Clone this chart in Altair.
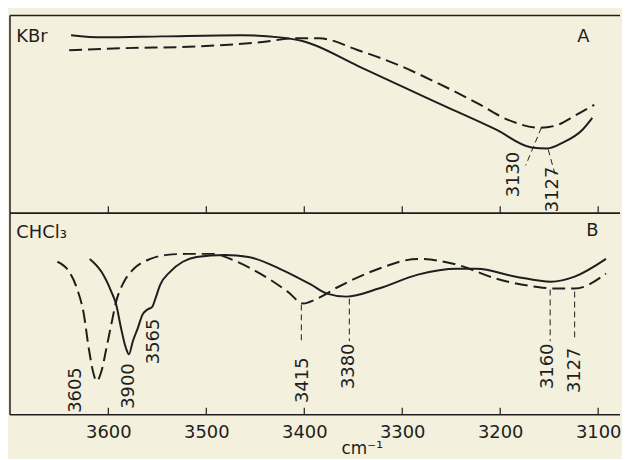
import altair as alt
import pandas as pd

# ---------------- data ----------------
# Panel A (KBr): wavenumber (cm-1) and relative transmittance (0-100 of panel height)
a_solid_wn = [3638, 3606, 3545, 3465, 3425, 3401, 3345, 3264, 3204, 3168, 3152, 3136, 3116, 3106]
a_solid_t = [90.0, 88.9, 89.4, 90.0, 88.9, 86.9, 74.4, 55.8, 42.2, 33.2, 32.7, 35.7, 42.2, 48.2]
a_dash_wn = [3640, 3586, 3505, 3445, 3409, 3385, 3345, 3304, 3264, 3224, 3192, 3160, 3144, 3124, 3104]
a_dash_t = [82.4, 83.4, 84.4, 86.4, 88.4, 88.4, 82.4, 74.9, 65.8, 55.8, 47.2, 43.2, 44.2, 49.2, 54.8]

# Panel B (CHCl3)
b_solid_wn = [3619, 3607, 3597, 3592, 3587, 3582, 3579, 3575, 3570, 3565, 3560, 3555, 3552, 3547,
              3537, 3524, 3510, 3481, 3457, 3425, 3393, 3377, 3357, 3324, 3284, 3244, 3224, 3184,
              3148, 3124, 3092]
b_solid_t = [77.3, 70.9, 61.1, 54.7, 42.9, 33.0, 30.0, 36.5, 42.9, 49.8, 52.2, 53.7, 57.6, 64.5,
             70.9, 75.9, 78.3, 79.3, 78.3, 72.4, 64.5, 60.1, 58.6, 62.6, 69.5, 72.4, 72.4, 68.5,
             66.0, 68.5, 77.3]
b_dash_wn = [3652, 3640, 3632, 3625, 3620, 3615, 3612, 3607, 3602, 3597, 3592, 3584, 3574, 3557,
             3540, 3520, 3493, 3473, 3445, 3417, 3401, 3389, 3365, 3324, 3284, 3244, 3204, 3164,
             3144, 3124, 3092]
b_dash_t = [75.9, 70.9, 62.6, 49.8, 33.0, 20.2, 16.7, 21.7, 33.0, 44.8, 56.2, 66.0, 72.4, 77.3,
            79.3, 79.8, 79.8, 76.8, 70.0, 61.1, 55.2, 57.1, 63.5, 72.4, 77.3, 74.4, 67.5, 63.5,
            62.6, 62.6, 70.0]

# peak annotations
a_lab_text = ["3130", "3127"]
a_lab_wn = [3186, 3146]
a_lab_t = [8.0, 0.5]
a_lead_wn1 = [3158, 3151]
a_lead_t1 = [43.2, 32.2]
a_lead_wn2 = [3174, 3144]
a_lead_t2 = [24.1, 19.6]

b_lab_text = ["3605", "3900", "3565", "3415", "3380", "3160", "3127"]
b_lab_wn = [3633, 3579, 3553, 3401, 3354, 3151, 3124]
b_lab_t = [1.0, 3.0, 25.1, 5.9, 12.8, 12.8, 10.8]
b_lead_wn = [3403, 3354, 3149, 3124]
b_lead_t1 = [54.7, 57.6, 62.1, 61.1]
b_lead_t2 = [35.0, 36.5, 36.5, 38.4]

tick_wn = [3600, 3500, 3400, 3300, 3200, 3100]

panel_a_names = ["KBr", "A"]
panel_a_wn = [3694, 3115]
panel_a_t = [88.9, 88.9]
panel_b_names = ["CHCl\u2083", "B"]
panel_b_wn = [3694, 3106]
panel_b_t = [90.1, 91.1]

# ---------------- styling ----------------
FONT = "DejaVu Sans"
INK = "#1e1e1e"
BG = "#f4f0de"
W = 614
HA = 199
HB = 203
XDOM = [3700.4, 3077.7]


def curve_df(wn, t):
    return pd.DataFrame({"wn": wn, "t": t, "i": list(range(len(wn)))})


def xs(axis=None):
    return alt.X("wn:Q", scale=alt.Scale(domain=XDOM, nice=False, zero=False), axis=axis)


ys = alt.Y("t:Q", scale=alt.Scale(domain=[0, 100], nice=False, zero=False), axis=None)


def frame_rule(**enc):
    return alt.Chart(pd.DataFrame({"k": [0]})).mark_rule(color=INK, strokeWidth=1.5).encode(**enc)


def panel(solid, dash, lab, lead, names, tick_h, height, bottom_axis):
    if bottom_axis:
        axis = alt.Axis(values=tick_wn, format="d", ticks=False, tickSize=0, domain=False,
                        grid=False, labelFont=FONT, labelFontSize=18, labelColor=INK,
                        labelPadding=23, labelBaseline="alphabetic",
                        title="cm\u207b\u00b9", titleFont=FONT, titleFontSize=17,
                        titleFontWeight="normal", titleColor=INK, titleX=354, titleY=39,
                        titleBaseline="alphabetic", titleAlign="center")
    else:
        axis = None

    def X():
        return xs(axis)

    layers = []
    for df, dashed in ((solid, False), (dash, True)):
        kw = dict(color=INK, strokeWidth=2, interpolate="monotone")
        if dashed:
            kw["strokeDash"] = [13, 6]
        layers.append(alt.Chart(df).mark_line(**kw).encode(x=X(), y=ys, order="i:Q"))

    ticks = pd.DataFrame({"wn": tick_wn, "t": [0] * len(tick_wn), "t2": [tick_h] * len(tick_wn)})
    layers.append(alt.Chart(ticks).mark_rule(color=INK, strokeWidth=1.2).encode(
        x=X(), y=ys, y2="t2:Q"))
    layers.append(alt.Chart(lead).mark_rule(color=INK, strokeWidth=1, strokeDash=[6, 4]).encode(
        x=X(), x2="wn2:Q", y=ys, y2="t2:Q"))
    layers.append(alt.Chart(lab).mark_text(angle=270, align="left", baseline="middle",
                                           font=FONT, fontSize=18, color=INK).encode(
        x=X(), y=ys, text="label:N"))
    layers.append(alt.Chart(names.iloc[[0]]).mark_text(
        align="left", baseline="middle", font=FONT, fontSize=18, color=INK).encode(
        x=X(), y=ys, text="name:N"))
    layers.append(alt.Chart(names.iloc[[1]]).mark_text(
        align="center", baseline="middle", font=FONT, fontSize=18, color=INK).encode(
        x=X(), y=ys, text="name:N"))
    # frame: left edge, top edge, bottom edge (no right edge: it is cut off in the original)
    layers.append(frame_rule(x=alt.value(0), y=alt.value(0), y2=alt.value(height)))
    layers.append(frame_rule(x=alt.value(0), x2=alt.value(W), y=alt.value(0)))
    layers.append(frame_rule(x=alt.value(0), x2=alt.value(W), y=alt.value(height)))
    return alt.layer(*layers).properties(width=W, height=height)


a_lab = pd.DataFrame({"label": a_lab_text, "wn": a_lab_wn, "t": a_lab_t})
a_lead = pd.DataFrame({"wn": a_lead_wn1, "t": a_lead_t1, "wn2": a_lead_wn2, "t2": a_lead_t2})
b_lab = pd.DataFrame({"label": b_lab_text, "wn": b_lab_wn, "t": b_lab_t})
b_lead = pd.DataFrame({"wn": b_lead_wn, "t": b_lead_t1, "wn2": b_lead_wn, "t2": b_lead_t2})
a_names = pd.DataFrame({"name": panel_a_names, "wn": panel_a_wn, "t": panel_a_t})
b_names = pd.DataFrame({"name": panel_b_names, "wn": panel_b_wn, "t": panel_b_t})

top = panel(curve_df(a_solid_wn, a_solid_t), curve_df(a_dash_wn, a_dash_t), a_lab, a_lead,
            a_names, 3.5, HA, False)
bottom = panel(curve_df(b_solid_wn, b_solid_t), curve_df(b_dash_wn, b_dash_t), b_lab, b_lead,
               b_names, 3.45, HB, True)

chart = alt.vconcat(top, bottom, spacing=0, bounds="flush").properties(
    padding={"top": 4, "left": 0, "right": 0, "bottom": 0},
    background=BG,
).configure_view(stroke="transparent")

chart.save("out.html", embed_options={"renderer": "svg", "actions": False})
